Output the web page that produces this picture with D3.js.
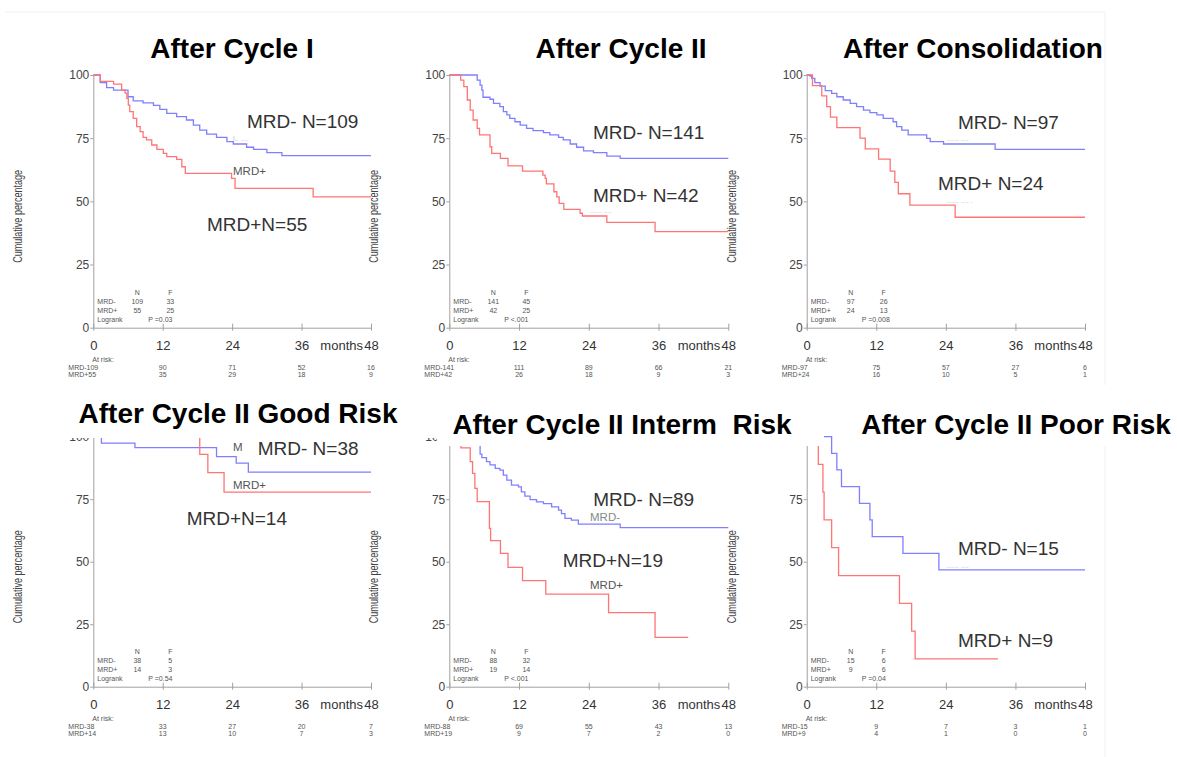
<!DOCTYPE html>
<html><head><meta charset="utf-8">
<script src="https://cdn.jsdelivr.net/npm/d3@7"></script>
<style>
html,body{margin:0;padding:0;background:#fff;}
svg{display:block;font-family:"Liberation Sans",Arial,sans-serif;}
</style></head>
<body>
<svg id="chart" width="1177" height="757"></svg>
<script>
// ---------- DATA ----------
const monthTicks = [0, 12, 24, 36, 48];
const yTicks = [0, 25, 50, 75, 100];
const titles = ["After Cycle I", "After Cycle II", "After Consolidation",
  "After Cycle II Good Risk", "After Cycle II Interm  Risk", "After Cycle II Poor Risk"];
const negLabels = ["MRD- N=109", "MRD- N=141", "MRD- N=97", "MRD- N=38", "MRD- N=89", "MRD- N=15"];
const posLabels = ["MRD+N=55", "MRD+ N=42", "MRD+ N=24", "MRD+N=14", "MRD+N=19", "MRD+ N=9"];
const statNeg = [[109, 33], [141, 45], [97, 26], [38, 5], [88, 32], [15, 6]];
const statPos = [[55, 25], [42, 25], [24, 13], [14, 3], [19, 14], [9, 6]];
const logrankP = ["P =0.03", "P <.001", "P =0.008", "P =0.54", "P <.001", "P =0.04"];
const riskNegLabel = ["MRD-109", "MRD-141", "MRD-97", "MRD-38", "MRD-88", "MRD-15"];
const riskPosLabel = ["MRD+55", "MRD+42", "MRD+24", "MRD+14", "MRD+19", "MRD+9"];
const riskNeg = [[90, 71, 52, 16], [111, 89, 66, 21], [75, 57, 27, 6], [33, 27, 20, 7], [69, 55, 43, 13], [9, 7, 3, 1]];
const riskPos = [[35, 29, 18, 9], [26, 18, 9, 3], [16, 10, 5, 1], [13, 10, 7, 3], [9, 7, 2, 0], [4, 1, 0, 0]];

// Kaplan-Meier steps: [month, cumulative percentage]
const negCycle1 = [[0,100],[1.2,97],[2.3,95],[3.5,94],[6.0,91.4],[6.9,89.8],[8.6,89],[10.4,88],[11.5,86.4],[12.7,84.8],[14.4,83.5],[16.1,82.2],[17.3,80.2],[18.4,78.2],[19.6,76.6],[21.3,75.3],[23.1,73.6],[24.2,72.7],[26.5,71.4],[27.7,70.6],[30,69.3],[32.6,68.1],[48,68.1]];
const posCycle1 = [[0,100],[1.2,97.5],[3.5,96.4],[4.9,94],[5.5,92.8],[5.8,90.8],[6.05,88.1],[6.3,85.5],[6.9,82.8],[7.5,79.6],[8.1,77.6],[8.6,75.3],[9.2,74.3],[10.1,72.3],[11,70.6],[12.1,69],[12.7,67.7],[14.4,66.6],[15.3,63.7],[15.9,61.1],[23.9,59.1],[24.5,55.1],[38,51.8],[48,51.8]];
const negCycle2 = [[0,100],[4.8,98],[5.3,96],[5.6,94],[5.8,91.2],[7,90.4],[7.6,88.8],[8.7,87.5],[9.3,85.5],[9.9,84.2],[10.4,82.8],[11.3,81.5],[12.2,80.2],[13.3,78.9],[14.4,78],[16.2,77.2],[17.3,76.3],[18.8,75.3],[19.6,74.3],[20.8,72.7],[21.9,71.4],[23.1,70],[24.8,69.3],[27.1,67.9],[29.4,67],[48,67]];
const posCycle2 = [[0,100],[1.95,98],[2.5,95.4],[3.1,90.1],[3.6,86.1],[4.1,82.2],[4.8,78.9],[5.2,76.3],[7,71.6],[7.3,69],[8.8,67],[10.1,64],[12.6,62],[16.1,60.4],[16.5,59.1],[16.7,56.9],[18,53.8],[18.5,51.8],[18.9,49.2],[19.7,46.8],[22.5,45.3],[22.9,44.2],[27.1,41.7],[35.4,38],[48,38]];
const negConsol = [[0,100],[0.57,99.6],[0.86,98.7],[1.4,97],[2.3,95.6],[3.2,93.8],[4.3,92.7],[5.2,91.4],[6.3,90.1],[7.5,88.8],[8.6,87.5],[9.8,86.1],[10.9,85.1],[12.1,84.2],[13.2,82.8],[14.9,81.5],[15.5,79.6],[16.4,78.2],[17.5,76.3],[20.7,74.9],[21.3,73.6],[23.6,72.7],[32.5,70.6],[48,70.6]];
const posConsol = [[0,100],[1.0,95.8],[2.6,91.7],[3.45,87.5],[4.1,83.3],[5.2,79.2],[9.2,75],[10.1,70.8],[12.4,66.7],[14.4,62],[15.2,57.5],[15.8,53],[17.8,48.5],[25.6,43.7],[48,43.7]];
const negGood = [[0,100],[1.4,97.4],[7.2,95.6],[21.3,92],[24.7,89.4],[26.8,85.8],[48,85.8]];
const posGood = [[0,100],[18.4,92.9],[19.8,85.6],[22.6,77.8],[48,77.8]];
const negInterm = [[0,100],[5.0,97],[5.3,93],[5.6,91.6],[6.4,90],[7,88.7],[7.9,87.3],[8.7,86.6],[9.3,84.6],[9.9,82.6],[10.7,80.6],[11.9,79.9],[12.4,77.9],[13,76.2],[13.9,74.8],[15,73.9],[16.2,73.2],[17.6,71.9],[18.8,70.6],[19.3,69.2],[19.9,67.3],[21,66.6],[22.2,65],[29.4,63.6],[48,63.6]];
const posInterm = [[0,100],[2.0,95.5],[3.6,90],[4.0,85.3],[4.4,79.3],[4.8,74],[6.9,63.3],[7.1,58.4],[8.8,53.3],[10.1,47.7],[12.6,42.4],[16.6,37],[27.4,29.6],[35.4,19.7],[41.1,19.7]];
const negPoor = [[0,100],[4.3,93.3],[5.2,86.7],[6.0,80],[9.1,73.3],[10.9,66.7],[11.3,60],[16.6,53.3],[22.8,46.7],[48,46.7]];
const posPoor = [[0,100],[2.0,88.9],[2.8,77.8],[3.0,66.7],[4.3,55.6],[5.5,44.4],[16.0,33.3],[18.1,22.2],[18.7,11.1],[33,11.1]];

const negSeries = [negCycle1, negCycle2, negConsol, negGood, negInterm, negPoor];
const posSeries = [posCycle1, posCycle2, posConsol, posGood, posInterm, posPoor];

// ---------- LAYOUT ----------
const layout = [
  {x0: 93.3, x1: 371, y0: 327.7, y1: 75, tx: 232, ty: 58, hideTop: false},
  {x0: 449.3, x1: 728.3, y0: 327.7, y1: 75, tx: 621, ty: 58, hideTop: false},
  {x0: 806.7, x1: 1085, y0: 327.7, y1: 75, tx: 973, ty: 58, hideTop: false},
  {x0: 93.3, x1: 371, y0: 686.7, y1: 436.7, tx: 238, ty: 423, hideTop: false},
  {x0: 449.3, x1: 728.3, y0: 686.7, y1: 436.7, tx: 622, ty: 434, hideTop: false},
  {x0: 806.7, x1: 1085, y0: 686.7, y1: 436.7, tx: 1016, ty: 434, hideTop: true}
];
const annot = [
  {neg: [247, 128], pos: [207, 231], small: [["MRD+", 233, 175, "#555"]], faint: [["I\u2025 \u2025\u2025", 233, 141]]},
  {neg: [593, 139], pos: [593, 202], small: [], faint: [["\u2025\u2025\u2025 \u2025\u2025", 590, 213]]},
  {neg: [958, 129], pos: [938, 190], small: [], faint: [["\u2025\u2025\u2025 \u2025\u2025", 947, 141], ["\u2025\u2025\u2025 \u2025\u2025 .", 947, 203]]},
  {neg: [257.7, 455], pos: [186.7, 525], small: [["M", 233, 451, "#555"], ["MRD+", 233, 489, "#555"]], faint: []},
  {neg: [593.3, 506], pos: [562.7, 567], small: [["MRD-", 590, 521, "#888"], ["MRD+", 590, 589, "#555"]], faint: []},
  {neg: [958, 555], pos: [958, 647], small: [], faint: [["\u2025\u2025\u2025 \u2025\u2025", 947, 568]]}
];

const BLUE = "#7f7fff", RED = "#ff7474", AX = "#a0a0a0", TXT = "#444";
const svg = d3.select("#chart");

// faint frame of the original slide image
svg.append("line").attr("x1", 5).attr("x2", 1105).attr("y1", 12).attr("y2", 12).attr("stroke", "#f1f1f1");
svg.append("line").attr("x1", 1105).attr("x2", 1105).attr("y1", 12).attr("y2", 757).attr("stroke", "#f1f1f1");

layout.forEach((L, i) => {
  const x = d3.scaleLinear().domain([0, 48]).range([L.x0, L.x1]);
  const y = d3.scaleLinear().domain([0, 100]).range([L.y0, L.y1]);
  const g = svg.append("g");

  // y axis
  const ya = g.append("g").attr("transform", `translate(${L.x0},0)`)
    .call(d3.axisLeft(y).tickValues(yTicks).tickSize(3).tickSizeOuter(0).tickPadding(1));
  ya.select(".domain").attr("stroke", AX);
  ya.selectAll(".tick line").attr("stroke", AX);
  ya.selectAll(".tick text").attr("fill", TXT).style("font-size", "12px");
  if (L.hideTop) ya.selectAll(".tick").filter(d => d === 100).remove();

  // x axis
  const xa = g.append("g").attr("transform", `translate(0,${L.y0})`)
    .call(d3.axisBottom(x).tickValues(monthTicks).tickSize(3).tickSizeOuter(0).tickPadding(10));
  xa.select(".domain").attr("stroke", AX);
  xa.selectAll(".tick line").attr("stroke", AX).attr("y1", -4).attr("y2", 3);
  xa.selectAll(".tick text").attr("fill", "#333").style("font-size", "13px");
  g.append("text").attr("x", x(48) - 8).attr("y", L.y0 + 22).attr("text-anchor", "end")
    .attr("fill", "#333").style("font-size", "13px").text("months");

  // y axis title (condensed)
  const cx = L.x0 - 75, cy = (L.y0 + L.y1) / 2 + 15;
  g.append("text").attr("transform", `translate(${cx + 4},${cy}) rotate(-90)`)
    .attr("text-anchor", "middle").attr("fill", TXT).style("font-size", "12px")
    .attr("textLength", 93).attr("lengthAdjust", "spacingAndGlyphs").text("Cumulative percentage");

  // curves
  const line = d3.line().x(d => x(d[0])).y(d => y(d[1])).curve(d3.curveStepAfter);
  g.append("path").datum(negSeries[i]).attr("d", line).attr("fill", "none")
    .attr("stroke", BLUE).attr("stroke-width", 1.3);
  g.append("path").datum(posSeries[i]).attr("d", line).attr("fill", "none")
    .attr("stroke", RED).attr("stroke-width", 1.3);

  // big labels
  const A = annot[i];
  g.append("text").attr("x", A.neg[0]).attr("y", A.neg[1]).attr("fill", "#333").style("font-size", "19px").text(negLabels[i]);
  g.append("text").attr("x", A.pos[0]).attr("y", A.pos[1]).attr("fill", "#333").style("font-size", "19px").text(posLabels[i]);
  A.small.forEach(s => g.append("text").attr("x", s[1]).attr("y", s[2]).attr("fill", s[3]).style("font-size", "11.5px").text(s[0]));
  A.faint.forEach(s => g.append("text").attr("x", s[1]).attr("y", s[2]).attr("fill", "#c4c4c4").style("font-size", "7px").text(s[0]));

  // stats block
  const st = g.append("g").attr("fill", "#555").style("font-size", "7px");
  const nx = L.x0 + 44, fx = L.x0 + 77, lx = L.x0 + 4;
  st.append("text").attr("x", nx).attr("y", L.y0 - 33).attr("text-anchor", "middle").text("N");
  st.append("text").attr("x", fx).attr("y", L.y0 - 33).attr("text-anchor", "middle").text("F");
  st.append("text").attr("x", lx).attr("y", L.y0 - 24).text("MRD-");
  st.append("text").attr("x", nx).attr("y", L.y0 - 24).attr("text-anchor", "middle").text(statNeg[i][0]);
  st.append("text").attr("x", fx).attr("y", L.y0 - 24).attr("text-anchor", "middle").text(statNeg[i][1]);
  st.append("text").attr("x", lx).attr("y", L.y0 - 15).text("MRD+");
  st.append("text").attr("x", nx).attr("y", L.y0 - 15).attr("text-anchor", "middle").text(statPos[i][0]);
  st.append("text").attr("x", fx).attr("y", L.y0 - 15).attr("text-anchor", "middle").text(statPos[i][1]);
  st.append("text").attr("x", lx).attr("y", L.y0 - 5.5).text("Logrank");
  st.append("text").attr("x", L.x0 + 55).attr("y", L.y0 - 5.5).text(logrankP[i]);

  // at risk table
  const ar = g.append("g").attr("fill", "#555").style("font-size", "7px");
  ar.append("text").attr("x", L.x0 - 1).attr("y", L.y0 + 34).text("At risk:");
  ar.append("text").attr("x", L.x0 - 25).attr("y", L.y0 + 42).text(riskNegLabel[i]);
  ar.append("text").attr("x", L.x0 - 25).attr("y", L.y0 + 49.5).text(riskPosLabel[i]);
  riskNeg[i].forEach((v, k) => ar.append("text").attr("x", x(monthTicks[k + 1])).attr("y", L.y0 + 42)
    .attr("text-anchor", "middle").text(v));
  riskPos[i].forEach((v, k) => ar.append("text").attr("x", x(monthTicks[k + 1])).attr("y", L.y0 + 49.5)
    .attr("text-anchor", "middle").text(v));
});

// white title boxes of bottom row that hide the top of the plots
[[0, 385, 395, 53], [395, 385, 42, 53], [437, 385, 387, 61], [835, 385, 342, 61]].forEach(r =>
  svg.append("rect").attr("x", r[0]).attr("y", r[1]).attr("width", r[2]).attr("height", r[3]).attr("fill", "#fff"));

// titles
layout.forEach((L, i) => {
  svg.append("text").attr("x", L.tx).attr("y", L.ty).attr("text-anchor", "middle")
    .attr("xml:space", "preserve").style("white-space", "pre")
    .attr("fill", "#000").style("font-size", "28px").style("font-weight", "bold").text(titles[i]);
});
</script>
</body></html>
